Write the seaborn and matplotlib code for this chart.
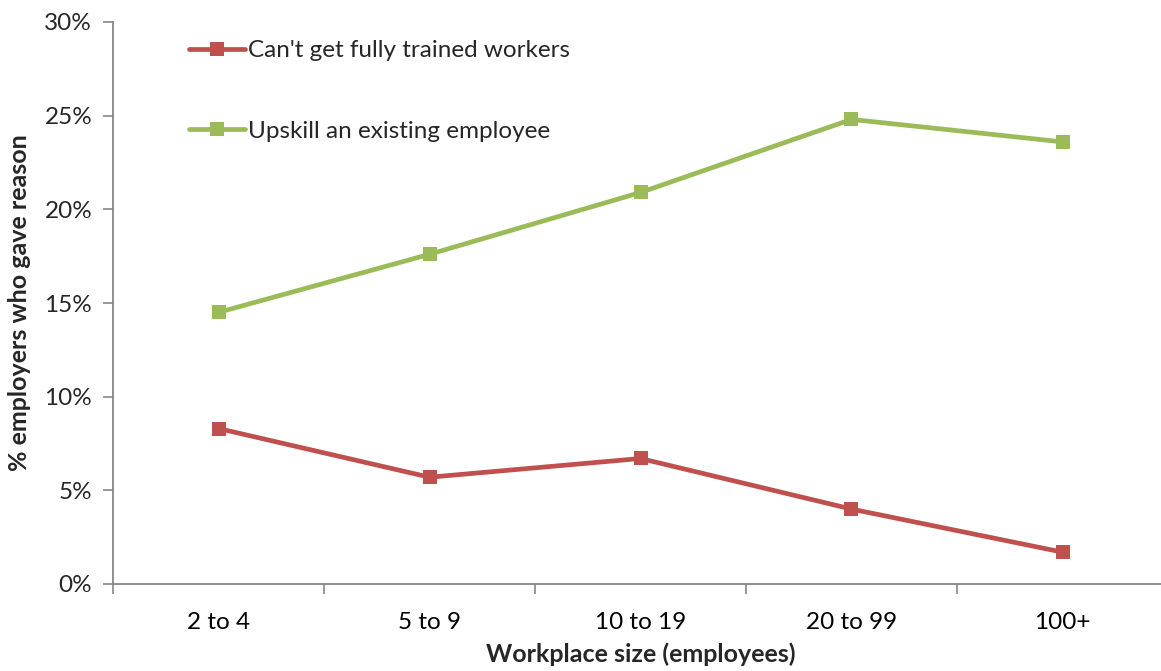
import matplotlib
matplotlib.use("Agg")
import matplotlib.pyplot as plt
import seaborn as sns
import pandas as pd
from matplotlib.ticker import FixedLocator, PercentFormatter

categories = ["2 to 4", "5 to 9", "10 to 19", "20 to 99", "100+"]
cant_get = [8.3, 5.7, 6.7, 4.0, 1.7]
upskill = [14.5, 17.6, 20.9, 24.8, 23.6]
series_names = ["Can't get fully trained workers", "Upskill an existing employee"]
colors = ["#C0504D", "#9BBB59"]

df = pd.DataFrame({
    "size": categories * 2,
    "pos": list(range(len(categories))) * 2,
    "value": cant_get + upskill,
    "series": [series_names[0]] * len(categories) + [series_names[1]] * len(categories),
})

sns.set_theme(style="white")
plt.rcParams["font.family"] = ["Lato", "DejaVu Sans"]

fig = plt.figure(figsize=(11.61, 6.71), dpi=100)
ax = fig.add_axes([113 / 1161, 87 / 671, (1168 - 113) / 1161, (584 - 22) / 671])

sns.lineplot(data=df, x="pos", y="value", hue="series", palette=colors,
             marker="s", markersize=10, markeredgewidth=0, linewidth=3.4,
             ax=ax, legend=True)

ax.set_xlim(-0.5, len(categories) - 0.5)
ax.set_ylim(0, 30)
ax.set_yticks([0, 5, 10, 15, 20, 25, 30])
ax.yaxis.set_major_formatter(PercentFormatter(decimals=0))
ax.set_xticks(range(len(categories)))
ax.set_xticklabels(categories)
ax.xaxis.set_minor_locator(FixedLocator([i - 0.5 for i in range(len(categories) + 1)]))
ax.tick_params(axis="x", which="major", length=0, pad=20, labelsize=17.5, colors="black")
ax.tick_params(axis="x", which="minor", length=7, width=1.2, color="#868686", direction="out", bottom=True)
ax.tick_params(axis="y", which="major", length=7, width=1.2, color="#868686", direction="out", left=True,
               labelsize=17.5, pad=8)

for s in ["top", "right"]:
    ax.spines[s].set_visible(False)
for s in ["left", "bottom"]:
    ax.spines[s].set_color("#868686")
    ax.spines[s].set_linewidth(1.3)

ax.set_xlabel("Workplace size (employees)", fontsize=18, fontweight="bold", labelpad=7)
ax.set_ylabel("% employers who gave reason", fontsize=18, fontweight="bold", labelpad=10)

leg = ax.legend(loc="upper left", bbox_to_anchor=(0.063, 0.985), frameon=False, fontsize=17.5,
                labelspacing=2.45, handlelength=2.3, handletextpad=0.1, borderaxespad=0)
ax.set_facecolor("white")
fig.patch.set_facecolor("white")
fig.savefig("out.png", dpi=100)
